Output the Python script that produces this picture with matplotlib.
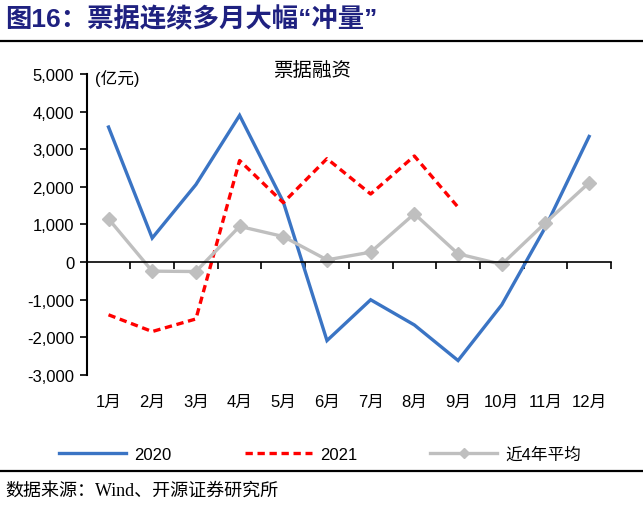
import matplotlib
matplotlib.use("Agg")
import matplotlib.pyplot as plt
from matplotlib.lines import Line2D
import matplotlib.transforms as mtransforms

plt.rcParams['font.family'] = ['Liberation Sans', 'Noto Sans CJK SC', 'DejaVu Sans']

# --- data (亿元) ---
months = ["1月", "2月", "3月", "4月", "5月", "6月", "7月", "8月", "9月", "10月", "11月", "12月"]
y2020 = [3590, 640, 2060, 3900, 1600, -2085, -1000, -1670, -2615, -1135, 930, 3340]
y2021 = [-1400, -1845, -1510, 2700, 1580, 2750, 1810, 2820, 1460]
avg4y = [1150, -240, -250, 950, 680, 60, 265, 1285, 220, -60, 1045, 2110]
yticks = [-3000, -2000, -1000, 0, 1000, 2000, 3000, 4000, 5000]

x_all = list(range(1, len(months) + 1))

fig = plt.figure(figsize=(6.43, 5.06), dpi=100)
ax = fig.add_axes([0.1348, 0.2569, 0.8154, 0.5949])

ax.plot(x_all, y2020, color='#3A74C4', lw=2.4, label='2020', solid_joinstyle='miter')
ax.plot(x_all[:len(y2021)], y2021, color='#FF0000', lw=2.4, ls=(0, (2.2, 1.4)), label='2021')
ax.plot(x_all, avg4y, color='#BFBFBF', lw=2.4, marker='D', ms=7, label='近4年平均')

ax.set_xlim(0.5, 12.5)
ax.set_ylim(-3000, 5000)
ax.set_yticks(yticks)
ax.set_yticklabels([f"{v:,}" for v in yticks], fontsize=12)
ax.tick_params(axis='y', direction='out', length=5, width=1.2, pad=4)

# x axis sits on zero, ticks between months
ax.spines['bottom'].set_position(('data', 0))
ax.spines['bottom'].set_linewidth(1.2)
ax.spines['left'].set_linewidth(1.5)
ax.spines['top'].set_visible(False)
ax.spines['right'].set_visible(False)
ax.set_xticks([i + 0.5 for i in range(0, 13)])
ax.set_xticklabels([])
ax.tick_params(axis='x', direction='out', length=5, width=1.2)

trans = mtransforms.blended_transform_factory(ax.transData, ax.transAxes)
for xi, m in zip(x_all, months):
    ax.text(xi, -0.088, m, transform=trans, ha='center', va='center', fontsize=12)

ax.text(0.015, 1.015, "(亿元)", transform=ax.transAxes, ha='left', va='top', fontsize=12)
ax.text(0.43, 1.015, "票据融资", transform=ax.transAxes, ha='center', va='center',
        fontsize=14)

# legend
handles = [
    Line2D([], [], color='#3A74C4', lw=2.4),
    Line2D([], [], color='#FF0000', lw=2.4, ls=(0, (2.2, 1.4))),
    Line2D([], [], color='#BFBFBF', lw=2.4, marker='D', ms=5),
]
fig.legend(handles, ['2020', '2021', '近4年平均'], loc='center', bbox_to_anchor=(0.498, 0.1),
           ncol=3, frameon=False, fontsize=12, handlelength=4.0, columnspacing=4.4,
           handletextpad=0.5)

# title, rules, source
fig.text(0.008, 0.962, "图16：票据连续多月大幅“冲量”", ha='left', va='center',
         fontsize=19, fontweight='bold', color='#1F2180')
fig.add_artist(Line2D([0, 1], [1 - 42 / 506, 1 - 42 / 506], transform=fig.transFigure,
                      color='black', lw=1.6))
fig.add_artist(Line2D([0, 1], [1 - 472 / 506, 1 - 472 / 506], transform=fig.transFigure,
                      color='black', lw=1.6))
fig.text(0.008, 1 - 491 / 506, "数据来源：Wind、开源证券研究所", ha='left', va='center',
         fontsize=13, family=['Liberation Serif', 'Noto Sans CJK SC'])

fig.savefig("out.png", dpi=100)
